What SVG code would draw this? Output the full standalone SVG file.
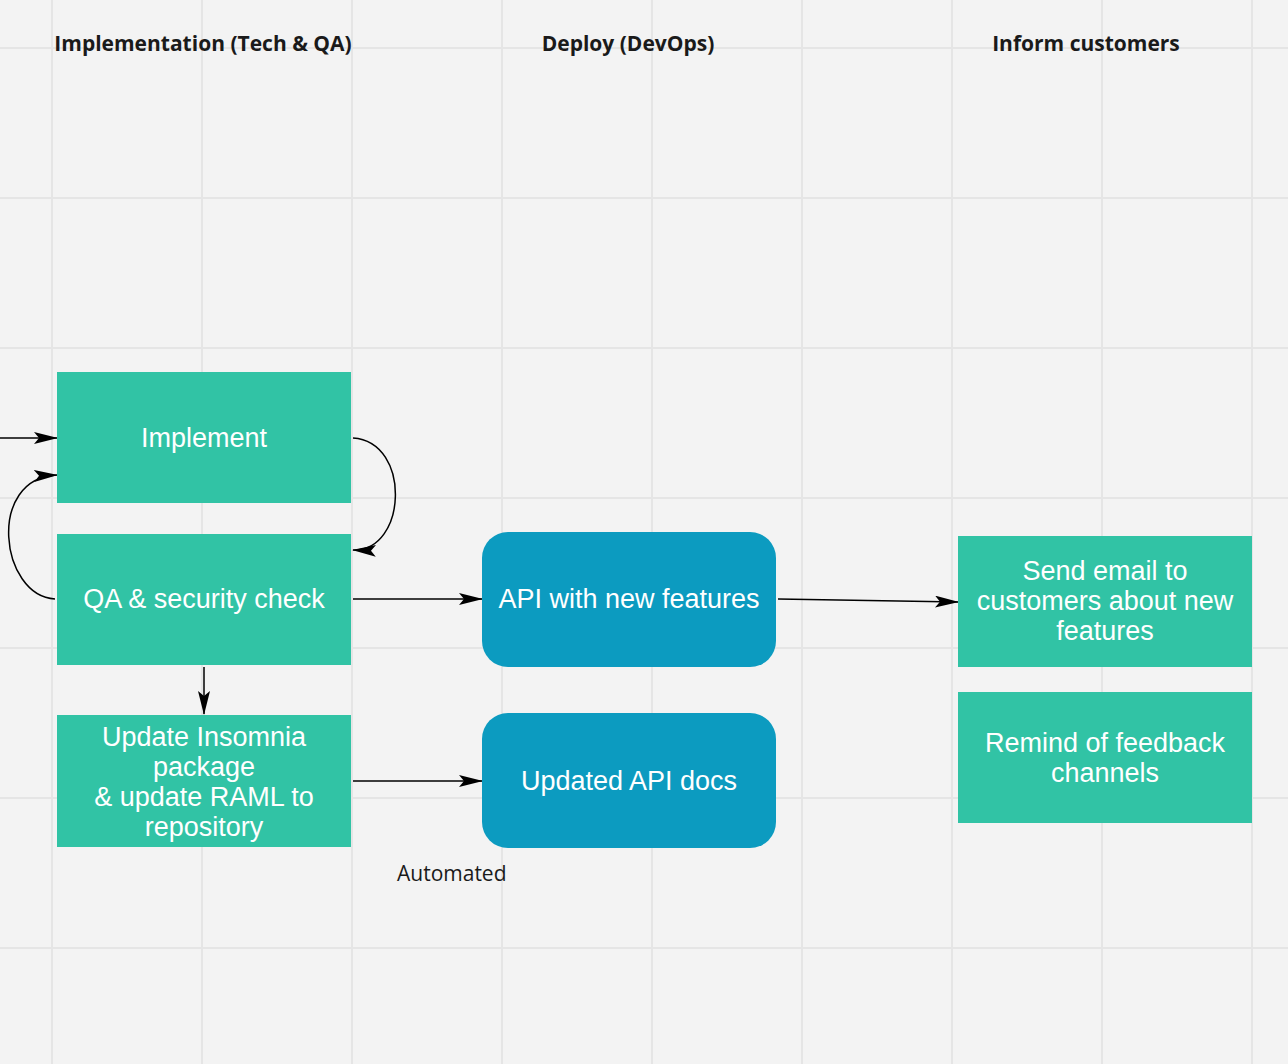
<svg xmlns="http://www.w3.org/2000/svg" width="1288" height="1064" viewBox="0 0 1288 1064">
<style>
.grid line{stroke:#e5e5e5;stroke-width:2}
.hdr{font-family:"Open Sans","Liberation Sans",sans-serif;font-weight:bold;font-size:21px;fill:#1a1a1a;text-anchor:middle}
.lbl{font-family:"Liberation Sans",Arial,sans-serif;font-size:27px;fill:#ffffff;text-anchor:middle}
.green{fill:#31c3a5}
.blue{fill:#0c9bc0}
.conn path{fill:none;stroke:#000;stroke-width:1.5;marker-end:url(#arr)}
.note{font-family:"Open Sans","Liberation Sans",sans-serif;font-size:21px;fill:#1a1a1a}
</style>
<defs>
<marker id="arr" markerWidth="24" markerHeight="12" refX="23" refY="6" orient="auto" markerUnits="userSpaceOnUse">
<path d="M0,0 L24,6 L0,12 L5,6 Z" fill="#000"/>
</marker>
</defs>
<rect width="1288" height="1064" fill="#f3f3f3"/>
<g class="grid">
<line x1="52" y1="0" x2="52" y2="1064"/>
<line x1="202" y1="0" x2="202" y2="1064"/>
<line x1="352" y1="0" x2="352" y2="1064"/>
<line x1="502" y1="0" x2="502" y2="1064"/>
<line x1="652" y1="0" x2="652" y2="1064"/>
<line x1="802" y1="0" x2="802" y2="1064"/>
<line x1="952" y1="0" x2="952" y2="1064"/>
<line x1="1102" y1="0" x2="1102" y2="1064"/>
<line x1="1252" y1="0" x2="1252" y2="1064"/>
<line x1="0" y1="48" x2="1288" y2="48"/>
<line x1="0" y1="198" x2="1288" y2="198"/>
<line x1="0" y1="348" x2="1288" y2="348"/>
<line x1="0" y1="498" x2="1288" y2="498"/>
<line x1="0" y1="648" x2="1288" y2="648"/>
<line x1="0" y1="798" x2="1288" y2="798"/>
<line x1="0" y1="948" x2="1288" y2="948"/>
</g>
<g id="headers">
<text class="hdr" x="203" y="51">Implementation (Tech &amp; QA)</text>
<text class="hdr" x="628" y="51">Deploy (DevOps)</text>
<text class="hdr" x="1086" y="51">Inform customers</text>
</g>
<g class="conn" id="connectors">
<path d="M0,438 L57,438"/>
<path d="M55,599 C0,596 -14,478 57,475"/>
<path d="M353,438 C412,442 407,552 353,550"/>
<path d="M353,599 L482,599"/>
<path d="M778,599 L958,602"/>
<path d="M204,667 L204,714"/>
<path d="M353,781 L482,781"/>
</g>
<g id="implement">
<rect class="green" x="57" y="372" width="294" height="131"/>
<text class="lbl" x="204" y="447">Implement</text>
</g>
<g id="qa">
<rect class="green" x="57" y="534" width="294" height="131"/>
<text class="lbl" x="204" y="608">QA &amp; security check</text>
</g>
<g id="update">
<rect class="green" x="57" y="715" width="294" height="132"/>
<text class="lbl" x="204" y="746">Update Insomnia</text>
<text class="lbl" x="204" y="776">package</text>
<text class="lbl" x="204" y="806">&amp; update RAML to</text>
<text class="lbl" x="204" y="836">repository</text>
</g>
<g id="api">
<rect class="blue" x="482" y="532" width="294" height="135" rx="26"/>
<text class="lbl" x="629" y="608">API with new features</text>
</g>
<g id="docs">
<rect class="blue" x="482" y="713" width="294" height="135" rx="26"/>
<text class="lbl" x="629" y="790">Updated API docs</text>
</g>
<g id="email">
<rect class="green" x="958" y="536" width="294" height="131"/>
<text class="lbl" x="1105" y="580">Send email to</text>
<text class="lbl" x="1105" y="610">customers about new</text>
<text class="lbl" x="1105" y="640">features</text>
</g>
<g id="remind">
<rect class="green" x="958" y="692" width="294" height="131"/>
<text class="lbl" x="1105" y="752">Remind of feedback</text>
<text class="lbl" x="1105" y="782">channels</text>
</g>
<text class="note" x="397" y="881">Automated</text>
</svg>
